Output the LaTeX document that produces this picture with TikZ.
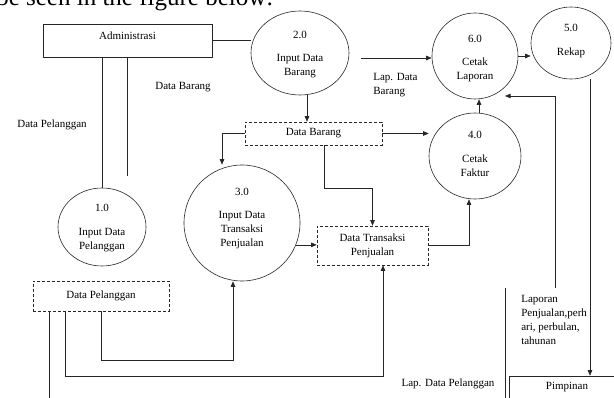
\documentclass[tikz,border=0pt]{standalone}
\usepackage{fontspec}
\setmainfont{Liberation Serif}
\usetikzlibrary{shapes.geometric,arrows.meta}
\tikzset{
  txt/.style={inner sep=0pt,font=\fontsize{11}{14}\selectfont,align=center},
  proc/.style={draw,ellipse,inner sep=0pt},
  ent/.style={draw,rectangle,inner sep=0pt},
  store/.style={draw,rectangle,inner sep=0pt,dash pattern=on 3pt off 2pt,txt},
  arr/.style={-{Triangle[length=5.5pt,width=4.5pt]}}
}
\begin{document}
\begin{tikzpicture}[x=1pt,y=-1pt,line width=0.6pt,draw=black!85]
  \useasboundingbox (0,0) rectangle (614,398);
  \clip (0,0) rectangle (614,398);
  \node[anchor=base west,inner sep=0pt,font=\fontsize{25}{25}\selectfont] (intro) at (-4,6) {be seen in the figure below:};
  % entities
  \node[ent,minimum width=169pt,minimum height=33pt] (adm) at (127.5,40.5) {};
  \node[txt] (admTxt) at (127.5,36) {Administrasi};
  \node[ent,minimum width=116pt,minimum height=40pt] (pim) at (567,396) {};
  \node[txt] (pimTxt) at (567,387) {Pimpinan};
  % processes
  \node[proc,minimum width=88pt,minimum height=78pt] (p1) at (102,227) {};
  \node[txt] (p1Num) at (102,208) {1.0};
  \node[txt] (p1Txt) at (102,240) {Input Data\\Pelanggan};
  \node[proc,minimum width=98pt,minimum height=84pt] (p2) at (300,53) {};
  \node[txt] (p2Num) at (300,35) {2.0};
  \node[txt] (p2Txt) at (300,66) {Input Data\\Barang};
  \node[proc,minimum width=116pt,minimum height=116pt] (p3) at (242,223) {};
  \node[txt] (p3Num) at (242,192) {3.0};
  \node[txt] (p3Txt) at (242,230) {Input Data\\Transaksi\\Penjualan};
  \node[proc,minimum width=92pt,minimum height=86pt] (p4) at (475,156) {};
  \node[txt] (p4Num) at (475,135) {4.0};
  \node[txt] (p4Txt) at (475,166) {Cetak\\Faktur};
  \node[proc,minimum width=80pt,minimum height=72pt] (p5) at (571,43) {};
  \node[txt] (p5Num) at (571,28) {5.0};
  \node[txt] (p5Txt) at (571,53) {Rekap};
  \node[proc,minimum width=86pt,minimum height=86pt] (p6) at (475,56) {};
  \node[txt] (p6Num) at (475,39) {6.0};
  \node[txt] (p6Txt) at (475,69.5) {Cetak\\Laporan};
  % data stores
  \node[store,minimum width=137pt,minimum height=23pt] (db) at (313.5,133.5) {Data Barang};
  \node[store,minimum width=111pt,minimum height=39pt] (dt) at (372.5,245.5) {Data Transaksi\\Penjualan};
  \node[store,minimum width=136pt,minimum height=30pt] (dp) at (101,296) {Data Pelanggan};
  % flow labels
  \node[txt] (lPlg) at (52,125) {Data Pelanggan};
  \node[txt] (lBrg) at (183,87) {Data Barang};
  \node[txt,anchor=north west,align=left] (lLapB) at (373,73) {Lap. Data\\Barang};
  \node[txt,anchor=north west,align=left] (lLap) at (521,295) {Laporan\\Penjualan,perh\\ari, perbulan,\\tahunan};
  \node[txt] (lLapP) at (448,384) {Lap. Data Pelanggan};
  % bends and free ends
  \coordinate (dpEnd) at (127,176);
  \coordinate (bDown) at (307,0);
  \coordinate (lapB) at (361,58);
  \coordinate (rekDown) at (590,0);
  \coordinate (lapIn) at (555,288);
  \coordinate (lapTip) at (505,96);
  \coordinate (lapPl) at (505,288);
  \coordinate (lapPlEnd) at (505,398);
  \coordinate (fakUp) at (479,0);
  \coordinate (brgLeft) at (222,0);
  \coordinate (brgBend) at (324,188);
  \coordinate (trxUp) at (469,0);
  \coordinate (plgA) at (233,360);
  \coordinate (plgB) at (65,0);
  \coordinate (plgBend) at (383,376);
  \coordinate (plgC) at (49,398);
  % flows
  \draw (adm.east) -- (adm.east -| p2.west);
  \draw (adm.south -| p1.north) -- (p1.north);
  \draw (adm.south -| dpEnd) -- (dpEnd);
  \draw[arr] (p2.south -| bDown) -- (db.north -| bDown);
  \draw[arr] (lapB) -- (lapB -| p6.west);
  \draw[arr] (p6.east) -- (p6.east -| p5.west);
  \draw[arr] (p5.south -| rekDown) -- (pim.north -| rekDown);
  \draw[arr] (lapIn) |- (lapTip);
  \draw (lapPl) -- (lapPlEnd);
  \draw[arr] (p4.north -| fakUp) -- (p6.south -| fakUp);
  \draw[arr] (db.east) -- (db.east -| p4.west);
  \draw[arr] (db.west) -| (p3.north -| brgLeft);
  \draw[arr] (db.south -| brgBend) -- (brgBend) -| (dt.north);
  \draw[arr] (dt.east) -| (p4.south -| trxUp);
  \draw[arr] (p3.-22) -- (p3.-22 -| dt.west);
  \draw[arr] (dp.south) |- (plgA) -- (plgA |- p3.south);
  \draw[arr] (dp.south -| plgB) |- (plgBend) -- (plgBend |- dt.south);
  \draw (dp.south -| plgC) -- (plgC);
\end{tikzpicture}
\end{document}
